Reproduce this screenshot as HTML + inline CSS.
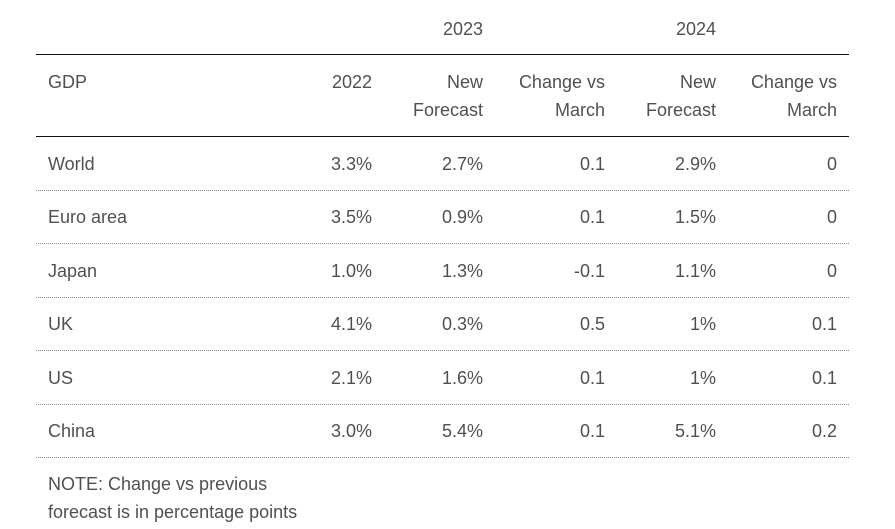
<!DOCTYPE html>
<html><head><meta charset="utf-8"><style>
html,body{margin:0;padding:0;background:#fff;}
body{width:895px;height:529px;position:relative;overflow:hidden;font-family:"Liberation Sans",sans-serif;font-size:18px;color:#505050;}
.t{position:absolute;height:24px;line-height:24px;white-space:nowrap;}
.r{text-align:right;width:200px;}
.hl{position:absolute;left:36px;width:813px;height:0;border-top:1.5px solid #111;}
.dl{position:absolute;left:36px;width:813px;height:0;border-top:1px dotted #888;}
</style></head><body>
<div class="t r" style="left:283px;top:17px">2023</div>
<div class="t r" style="left:516px;top:17px">2024</div>
<div class="hl" style="top:54px"></div>
<div class="t" style="left:48px;top:70px">GDP</div>
<div class="t r" style="left:172px;top:70px">2022</div>
<div class="t r" style="left:283px;top:70px">New</div>
<div class="t r" style="left:283px;top:98px">Forecast</div>
<div class="t r" style="left:405px;top:70px">Change vs</div>
<div class="t r" style="left:405px;top:98px">March</div>
<div class="t r" style="left:516px;top:70px">New</div>
<div class="t r" style="left:516px;top:98px">Forecast</div>
<div class="t r" style="left:637px;top:70px">Change vs</div>
<div class="t r" style="left:637px;top:98px">March</div>
<div class="hl" style="top:136px"></div>

<div class="t" style="left:48px;top:152px">World</div>
<div class="t r" style="left:172px;top:152px">3.3%</div>
<div class="t r" style="left:283px;top:152px">2.7%</div>
<div class="t r" style="left:405px;top:152px">0.1</div>
<div class="t r" style="left:516px;top:152px">2.9%</div>
<div class="t r" style="left:637px;top:152px">0</div>
<div class="dl" style="top:190px"></div>

<div class="t" style="left:48px;top:205px">Euro area</div>
<div class="t r" style="left:172px;top:205px">3.5%</div>
<div class="t r" style="left:283px;top:205px">0.9%</div>
<div class="t r" style="left:405px;top:205px">0.1</div>
<div class="t r" style="left:516px;top:205px">1.5%</div>
<div class="t r" style="left:637px;top:205px">0</div>
<div class="dl" style="top:243px"></div>

<div class="t" style="left:48px;top:258.5px">Japan</div>
<div class="t r" style="left:172px;top:258.5px">1.0%</div>
<div class="t r" style="left:283px;top:258.5px">1.3%</div>
<div class="t r" style="left:405px;top:258.5px">-0.1</div>
<div class="t r" style="left:516px;top:258.5px">1.1%</div>
<div class="t r" style="left:637px;top:258.5px">0</div>
<div class="dl" style="top:297px"></div>

<div class="t" style="left:48px;top:312px">UK</div>
<div class="t r" style="left:172px;top:312px">4.1%</div>
<div class="t r" style="left:283px;top:312px">0.3%</div>
<div class="t r" style="left:405px;top:312px">0.5</div>
<div class="t r" style="left:516px;top:312px">1%</div>
<div class="t r" style="left:637px;top:312px">0.1</div>
<div class="dl" style="top:350px"></div>

<div class="t" style="left:48px;top:365.5px">US</div>
<div class="t r" style="left:172px;top:365.5px">2.1%</div>
<div class="t r" style="left:283px;top:365.5px">1.6%</div>
<div class="t r" style="left:405px;top:365.5px">0.1</div>
<div class="t r" style="left:516px;top:365.5px">1%</div>
<div class="t r" style="left:637px;top:365.5px">0.1</div>
<div class="dl" style="top:404px"></div>

<div class="t" style="left:48px;top:419px">China</div>
<div class="t r" style="left:172px;top:419px">3.0%</div>
<div class="t r" style="left:283px;top:419px">5.4%</div>
<div class="t r" style="left:405px;top:419px">0.1</div>
<div class="t r" style="left:516px;top:419px">5.1%</div>
<div class="t r" style="left:637px;top:419px">0.2</div>
<div class="dl" style="top:457px"></div>

<div class="t" style="left:48px;top:472px">NOTE: Change vs previous</div>
<div class="t" style="left:48px;top:500px">forecast is in percentage points</div>
</body></html>
